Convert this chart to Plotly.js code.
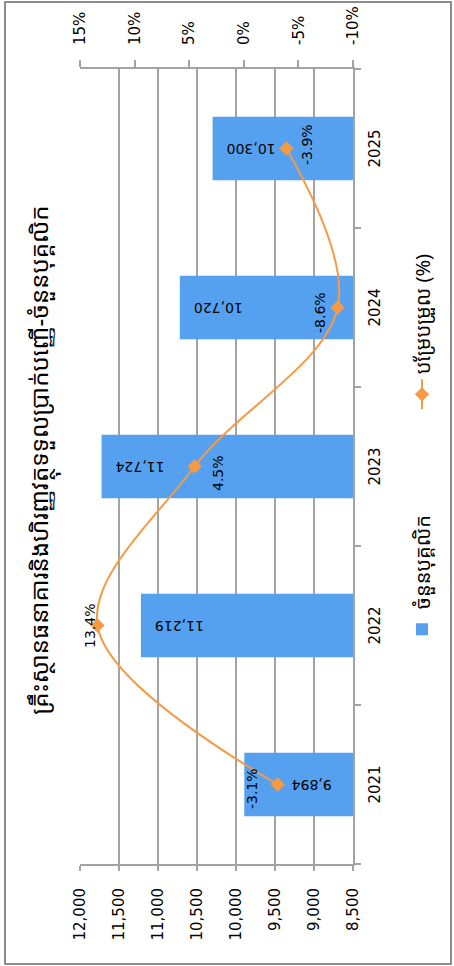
<!DOCTYPE html>
<html>
<head>
<meta charset="utf-8">
<script src="https://cdn.plot.ly/plotly-3.0.1.min.js"></script>
<style>
html, body { margin: 0; padding: 0; width: 454px; height: 966px; overflow: hidden; background: #fff; }
#chart { position: absolute; left: 0; top: 0; width: 966px; height: 454px;
  transform-origin: 0 0; transform: translate(0px, 966px) rotate(-90deg); }
</style>
</head>
<body>
<div id="chart"></div>
<script>
// ---- data ----
const years = ['2021', '2022', '2023', '2024', '2025'];
const staff = [9894, 11219, 11724, 10720, 10300];
const changePct = [-3.1, 13.4, 4.5, -8.6, -3.9];
const pctTicks = [-10, -5, 0, 5, 10, 15];
const titleText = 'គ្រឹះស្ថានធនាគារនិងហិរញ្ញវត្ថុទទួលប្រាក់បញ្ញើ-ចំនួនបុគ្គលិក';
const barName = 'ចំនួនបុគ្គលិក';
const lineName = 'បម្រែបម្រួល (%)';

// ---- styling ----
const FONT = 'DejaVu Sans, sans-serif';
const KFONT = '"Noto Sans Khmer", "Khmer OS", DejaVu Sans, sans-serif';
const BLUE = '#55A1EF';
const ORANGE = '#F79A45';
const GRID = '#A3A3A3';
const barLabelShift = [-46, -12, -12, -12, -12];
const pctLabelShift = [[-4, 26], [-1, 7], [-7, -23], [-5, 18], [4, -21]];

const fmtInt = v => v.toLocaleString('en-US');
const fmtPct = v => (v < 0 ? '-' : '') + Math.abs(v).toFixed(1) + '%';

const traces = [
  {
    type: 'bar', name: barName, x: years, y: staff,
    marker: { color: BLUE }, yaxis: 'y', hoverinfo: 'none'
  },
  {
    type: 'scatter', mode: 'lines+markers', name: lineName, x: years, y: changePct,
    yaxis: 'y2', line: { color: ORANGE, width: 2, shape: 'spline', smoothing: 1 },
    marker: { symbol: 'diamond', size: 11, color: ORANGE }, hoverinfo: 'none'
  }
];

// data labels (category index positions on the x axis)
const annList = [];
years.forEach((yr, i) => {
  annList.push({
    x: i, y: staff[i], xref: 'x', yref: 'y', text: fmtInt(staff[i]),
    showarrow: false, textangle: -90, xanchor: 'center', yanchor: 'top',
    yshift: barLabelShift[i], font: { family: FONT, size: 14, color: '#000' }
  });
  annList.push({
    x: i, y: changePct[i], xref: 'x', yref: 'y2', text: fmtPct(changePct[i]),
    showarrow: false, xanchor: 'center', yanchor: 'middle',
    xshift: pctLabelShift[i][0], yshift: pctLabelShift[i][1],
    font: { family: FONT, size: 14, color: '#000' }
  });
});

const L = 102, R = 69, T = 80, B = 101, W = 966, H = 454;
const pw = W - L - R, ph = H - T - B;

const layout = {
  width: W, height: H,
  margin: { l: L, r: R, t: T, b: B, pad: 0 },
  paper_bgcolor: '#fff', plot_bgcolor: '#fff',
  font: { family: FONT, size: 15, color: '#000' },
  title: {
    text: titleText, x: 0.508, xanchor: 'center', xref: 'paper',
    y: 1 - 40 / H, yanchor: 'middle', yref: 'container',
    font: { family: KFONT, size: 24, color: '#000' }
  },
  bargap: 0.6,
  showlegend: true,
  legend: {
    orientation: 'h', x: 0.27, xanchor: 'left', y: (ph - (422 - T)) / ph, yanchor: 'middle',
    font: { family: KFONT, size: 20, color: '#000' },
    entrywidth: 190, entrywidthmode: 'pixels', bgcolor: 'rgba(0,0,0,0)'
  },
  xaxis: {
    type: 'category', range: [-0.5, 4.5], showgrid: false,
    showline: true, linecolor: GRID, linewidth: 2,
    ticks: 'outside', tickson: 'boundaries', ticklen: 6, tickcolor: GRID, tickwidth: 2,
    ticklabelstandoff: 7, tickfont: { family: FONT, size: 15 }
  },
  yaxis: {
    range: [8500, 12000], dtick: 500, tickformat: ',d',
    showgrid: true, gridcolor: GRID, gridwidth: 2, zeroline: false,
    showline: true, linecolor: GRID, linewidth: 2,
    ticks: 'outside', ticklen: 5, tickcolor: GRID, tickwidth: 2,
    ticklabelstandoff: 14, tickfont: { family: FONT, size: 15 }
  },
  yaxis2: {
    overlaying: 'y', side: 'right', range: [-10, 15],
    tickmode: 'array', tickvals: pctTicks, ticktext: pctTicks.map(v => (v < 0 ? '-' : '') + Math.abs(v) + '%'),
    showgrid: false, zeroline: false,
    showline: true, linecolor: GRID, linewidth: 2,
    ticks: 'outside', ticklen: 7, tickcolor: GRID, tickwidth: 2,
    ticklabelstandoff: 12, tickfont: { family: FONT, size: 15 }
  },
  annotations: annList,
  shapes: [{
    type: 'rect', xref: 'paper', yref: 'paper',
    x0: (2 - L) / pw, x1: (964 - L) / pw,
    y0: (ph - (451 - T)) / ph, y1: (ph - (5 - T)) / ph,
    line: { color: '#8C8C8C', width: 2 }, fillcolor: 'rgba(0,0,0,0)'
  }]
};

Plotly.newPlot('chart', traces, layout, { displayModeBar: false, staticPlot: true });
</script>
</body>
</html>
